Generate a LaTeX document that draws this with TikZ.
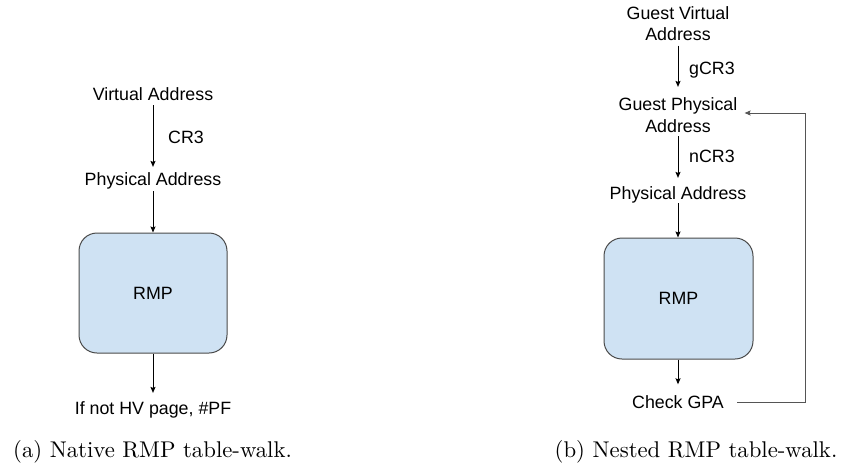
\documentclass[tikz,border=0pt]{standalone}
\usepackage{fontspec}
\usepackage{graphicx}
\newfontfamily\diagfont{Liberation Sans}
\usetikzlibrary{arrows.meta}

\definecolor{rmpfill}{HTML}{CFE2F3}
\definecolor{rmpedge}{HTML}{4A4A4A}
\definecolor{loopline}{HTML}{555555}

\tikzset{
  txt/.style={inner sep=0pt, font=\diagfont\fontsize{17.8}{21.5}\selectfont, align=center},
  lbl/.style={inner sep=0pt, font=\diagfont\fontsize{17.8}{21.5}\selectfont, anchor=base west},
  rmpbox/.style={draw=rmpedge, fill=rmpfill, line width=1pt, rounded corners=18pt,
    inner sep=0pt, font=\diagfont\fontsize{17.8}{21.5}\selectfont},
  link/.style={line width=1pt, -{Stealth[length=6pt,width=5pt,inset=1pt]}},
  feedback/.style={draw=loopline, line width=1pt, -{Stealth[length=6pt,width=5pt,inset=1pt]}},
  captext/.style={inner sep=0pt, anchor=base}
}

\begin{document}
\begin{tikzpicture}[x=1pt, y=-1pt]
  \useasboundingbox (0,0) rectangle (845,466);

  % (a) native walk
  \node[txt, anchor=base] (va) at (153,100.4) {Virtual Address};
  \node[txt, anchor=base] (pa) at (153,185.4) {Physical Address};
  \node[rmpbox, minimum width=148pt, minimum height=120pt] (rmp) at (153,293) {RMP};
  \node[txt, anchor=base] (res) at (153,414.4) {If not HV page, \#PF};
  \node[lbl] (cr3) at (168,143.4) {CR3};

  \draw[link, shorten <=4.6pt, shorten >=5.4pt] (va) -- (pa);
  \draw[link, shorten <=1.8pt] (pa) -- (rmp);
  \draw[link, shorten >=8.4pt] (rmp) -- (res);

  \node[captext] (capa) at (152.5,457) {\scalebox{2.275}{\normalsize (a) Native RMP table-walk.}};

  % (b) nested walk
  \node[txt] (gva) at (678,23.5) {Guest Virtual\\Address};
  \node[txt] (gpa) at (678,115) {Guest Physical\\Address};
  \node[txt, anchor=base] (pa2) at (678,199.4) {Physical Address};
  \node[rmpbox, minimum width=149pt, minimum height=121pt] (rmp2) at (678.5,298.5) {RMP};
  \node[txt, anchor=base] (cg) at (678,408.4) {Check GPA};
  \node[lbl] (gcr3) at (689,74.4) {gCR3};
  \node[lbl] (ncr3) at (689,162.4) {nCR3};
  \coordinate (turn) at (805,113);

  \draw[link, shorten <=4.6pt, shorten >=10.6pt] (gva) -- (gpa);
  \draw[link, shorten <=3.6pt, shorten >=8.4pt] (gpa) -- (pa2);
  \draw[link] (pa2) -- (rmp2.north -| pa2);
  \draw[link, shorten >=11pt] (rmp2.south -| cg) -- (cg);
  \draw[feedback, shorten <=13pt, shorten >=7pt] (cg.east) -| (turn) -- (turn -| gpa.east);

  \node[captext] (capb) at (696,457) {\scalebox{2.275}{\normalsize (b) Nested RMP table-walk.}};
\end{tikzpicture}
\end{document}
